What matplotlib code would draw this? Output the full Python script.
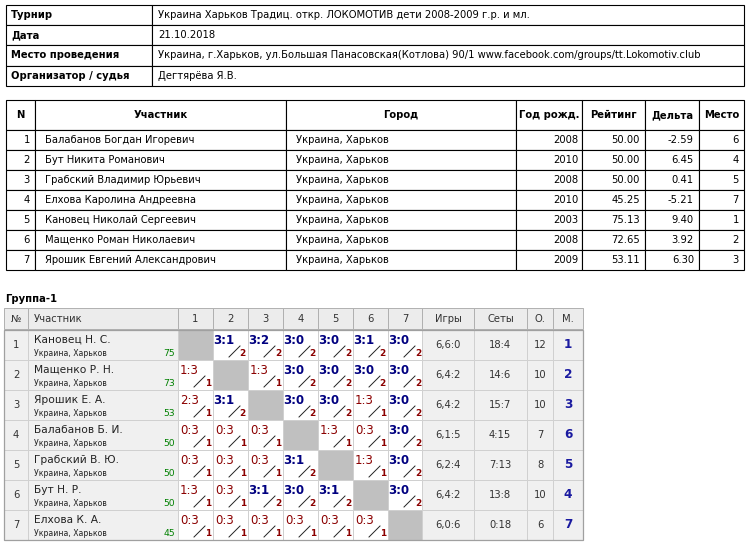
import matplotlib
matplotlib.use("Agg")
import matplotlib.pyplot as plt
from matplotlib.patches import Rectangle

info_labels = ["Турнир", "Дата", "Место проведения", "Организатор / судья"]
info_values = ["Украина Харьков Традиц. откр. ЛОКОМОТИВ дети 2008-2009 г.р. и мл.",
               "21.10.2018",
               "Украина, г.Харьков, ул.Большая Панасовская(Котлова) 90/1 www.facebook.com/groups/tt.Lokomotiv.club",
               "Дегтярёва Я.В."]

players = ["Балабанов Богдан Игоревич", "Бут Никита Романович", "Грабский Владимир Юрьевич",
           "Елхова Каролина Андреевна", "Кановец Николай Сергеевич", "Мащенко Роман Николаевич",
           "Ярошик Евгений Александрович"]
cities = ["Украина, Харьков"] * 7
years = [2008, 2010, 2008, 2010, 2003, 2008, 2009]
ratings = [50.00, 50.00, 50.00, 45.25, 75.13, 72.65, 53.11]
deltas = [-2.59, 6.45, 0.41, -5.21, 9.40, 3.92, 6.30]
places = [6, 4, 5, 7, 1, 2, 3]

g_names = ["Кановец Н. С.", "Мащенко Р. Н.", "Ярошик Е. А.", "Балабанов Б. И.",
           "Грабский В. Ю.", "Бут Н. Р.", "Елхова К. А."]
g_rating = [75, 73, 53, 50, 50, 50, 45]
g_scores = [
    [None, "3:1", "3:2", "3:0", "3:0", "3:1", "3:0"],
    ["1:3", None, "1:3", "3:0", "3:0", "3:0", "3:0"],
    ["2:3", "3:1", None, "3:0", "3:0", "1:3", "3:0"],
    ["0:3", "0:3", "0:3", None, "1:3", "0:3", "3:0"],
    ["0:3", "0:3", "0:3", "3:1", None, "1:3", "3:0"],
    ["1:3", "0:3", "3:1", "3:0", "3:1", None, "3:0"],
    ["0:3", "0:3", "0:3", "0:3", "0:3", "0:3", None],
]
g_games = ["6,6:0", "6,4:2", "6,4:2", "6,1:5", "6,2:4", "6,4:2", "6,0:6"]
g_sets = ["18:4", "14:6", "15:7", "4:15", "7:13", "13:8", "0:18"]
g_points = [12, 10, 10, 7, 8, 10, 6]
g_place = [1, 2, 3, 6, 5, 4, 7]

plt.rcParams['font.family'] = ['DejaVu Sans']
fig = plt.figure(figsize=(7.5, 5.44), dpi=100)
ax = fig.add_axes([0, 0, 1, 1])
ax.set_xlim(0, 750); ax.set_ylim(544, 0); ax.axis('off')
FS = 7.2

def box(x0, y0, x1, y1, fc='white', ec='black', lw=0.8):
    ax.add_patch(Rectangle((x0, y0), x1 - x0, y1 - y0, facecolor=fc, edgecolor=ec, lw=lw))

# info table
ys = [5, 25, 45, 66, 86]
for i in range(4):
    box(6, ys[i], 152, ys[i+1])
    box(152, ys[i], 744, ys[i+1])
    yc = (ys[i] + ys[i+1]) / 2
    ax.text(11, yc, info_labels[i], fontsize=FS, weight='bold', va='center')
    ax.text(158, yc, info_values[i], fontsize=FS, va='center', clip_on=True)

# players table
cx = [6, 35, 286, 516, 582, 645, 699, 744]
heads = ["N", "Участник", "Город", "Год рожд.", "Рейтинг", "Дельта", "Место"]
for j in range(7):
    box(cx[j], 100, cx[j+1], 130)
    ax.text((cx[j] + cx[j+1]) / 2, 115, heads[j], fontsize=FS, weight='bold', ha='center', va='center')
for i in range(7):
    y0 = 130 + 20 * i; yc = y0 + 10
    for j in range(7):
        box(cx[j], y0, cx[j+1], y0 + 20)
    ax.text(30, yc, str(i + 1), fontsize=FS, ha='right', va='center')
    ax.text(45, yc, players[i], fontsize=FS, va='center')
    ax.text(296, yc, cities[i], fontsize=FS, va='center')
    ax.text(578, yc, str(years[i]), fontsize=FS, ha='right', va='center')
    ax.text(640, yc, f"{ratings[i]:.2f}", fontsize=FS, ha='right', va='center')
    ax.text(694, yc, f"{deltas[i]:.2f}", fontsize=FS, ha='right', va='center')
    ax.text(739, yc, str(places[i]), fontsize=FS, ha='right', va='center')

# group table
ax.text(5, 299, "Группа-1", fontsize=FS, weight='bold', va='center')
gx = [4, 28, 178, 213, 248, 283, 318, 353, 388, 422, 474, 527, 553, 583]
gh = ["№", "Участник", "1", "2", "3", "4", "5", "6", "7", "Игры", "Сеты", "О.", "М."]
for j in range(13):
    box(gx[j], 308, gx[j+1], 329, fc='#ececec', ec='#b0b0b0', lw=0.7)
    if j == 1:
        ax.text(34, 318.5, gh[j], fontsize=FS, va='center', color='#333333')
    else:
        ax.text((gx[j] + gx[j+1]) / 2, 318.5, gh[j], fontsize=FS, ha='center', va='center', color='#333333')
blue = '#000080'; red = '#8b0000'
for i in range(7):
    y0 = 330 + 30 * i; y1 = y0 + 30; yc = y0 + 15
    for j in range(13):
        fc = '#f0f0f0' if j in (0, 1) or j >= 9 else 'white'
        if 2 <= j <= 8 and g_scores[i][j - 2] is None:
            fc = '#c0c0c0'
        box(gx[j], y0, gx[j+1], y1, fc=fc, ec='#d0d0d0', lw=0.7)
    ax.text(16, yc, str(i + 1), fontsize=FS, ha='center', va='center', color='#333333')
    ax.text(34, y0 + 10, g_names[i], fontsize=FS + 0.5, va='center', color='#222222')
    ax.text(34, y0 + 23, cities[i], fontsize=FS - 1.6, va='center', color='#222222')
    ax.text(175, y0 + 23, str(g_rating[i]), fontsize=FS - 0.5, ha='right', va='center', color='#008000')
    for k in range(7):
        s = g_scores[i][k]
        if s is None:
            continue
        xl = gx[k + 2]
        win = s.startswith("3")
        ax.text(xl + 21, y0 + 11, s, fontsize=FS + 1.3, ha='right', va='center',
                color=blue if win else red, weight='bold' if win else 'normal')
        ax.plot([xl + 16, xl + 27], [y0 + 27, y0 + 16], color='#222222', lw=0.7)
        ax.text(xl + 33, y0 + 23, "2" if win else "1", fontsize=FS - 0.8, ha='right', va='center',
                color=red, weight='bold')
    ax.text(448, yc, g_games[i], fontsize=FS, ha='center', va='center', color='#333333')
    ax.text(500, yc, g_sets[i], fontsize=FS, ha='center', va='center', color='#333333')
    ax.text(540, yc, str(g_points[i]), fontsize=FS, ha='center', va='center', color='#333333')
    ax.text(568, yc, str(g_place[i]), fontsize=FS + 1.5, ha='center', va='center', color='#1a1aa0', weight='bold')
box(4, 330, 583, 540, fc='none', ec='#a0a0a0', lw=0.9)

fig.savefig("out.png", dpi=100)
